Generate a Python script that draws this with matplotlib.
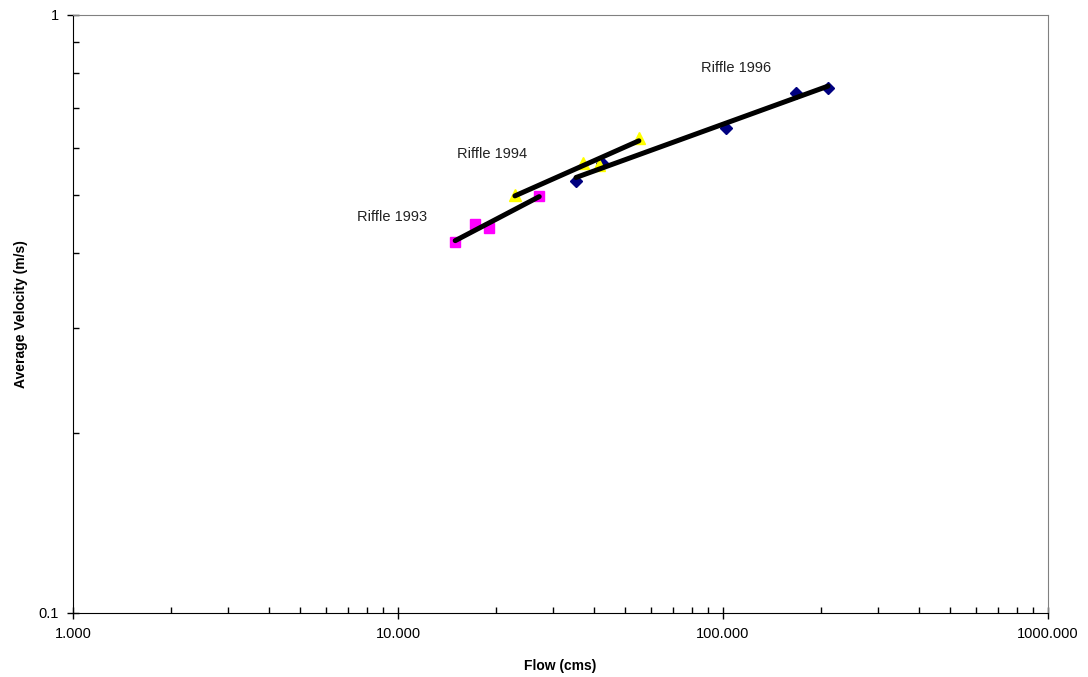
import numpy as np
import matplotlib
matplotlib.use("Agg")
import matplotlib.pyplot as plt
from matplotlib.ticker import FixedLocator, FixedFormatter, LogLocator, NullFormatter

plt.rcParams['font.family'] = ['Liberation Sans', 'DejaVu Sans']

# data (flow in cms, velocity in m/s)
flow_1993 = [15.0, 17.3, 19.0, 27.2]
vel_1993 = [0.417, 0.447, 0.440, 0.498]

flow_1994 = [22.9, 37.1, 41.5, 55.1]
vel_1994 = [0.500, 0.566, 0.561, 0.623]

flow_1996 = [35.3, 42.4, 102.1, 167.7, 210.4]
vel_1996 = [0.528, 0.566, 0.647, 0.741, 0.755]

labels = ["Riffle 1993", "Riffle 1994", "Riffle 1996"]
label_pos = [(9.6, 0.459), (19.5, 0.586), (110.0, 0.815)]


def power_fit(x, y):
    x = np.asarray(x)
    b, a = np.polyfit(np.log10(x), np.log10(y), 1)
    xs = np.array([x.min(), x.max()])
    return xs, 10 ** (a + b * np.log10(xs))


fig = plt.figure(figsize=(10.88, 6.77), dpi=100)
ax = fig.add_axes([73 / 1088, 64 / 677, 975 / 1088, 598 / 677])

ax.plot(flow_1996, vel_1996, linestyle='none', marker='D', markersize=6,
        color='#000080', zorder=3)
ax.plot(flow_1994, vel_1994, linestyle='none', marker='^', markersize=8,
        color='#ffff00', zorder=3)
ax.plot(flow_1993, vel_1993, linestyle='none', marker='s', markersize=7,
        color='#ff00ff', zorder=3)

for fx, fy in [(flow_1993, vel_1993), (flow_1994, vel_1994), (flow_1996, vel_1996)]:
    xs, ys = power_fit(fx, fy)
    ax.plot(xs, ys, color='black', linewidth=3.6, solid_capstyle='round', zorder=4)

for txt, (tx, ty) in zip(labels, label_pos):
    ax.text(tx, ty, txt, ha='center', va='center', fontsize=10.5, color='#222222')

ax.set_xscale('log')
ax.set_yscale('log')
ax.set_xlim(1, 1000)
ax.set_ylim(0.1, 1)

ax.xaxis.set_major_locator(FixedLocator([1, 10, 100, 1000]))
ax.xaxis.set_major_formatter(FixedFormatter(["1.000", "10.000", "100.000", "1000.000"]))
ax.xaxis.set_minor_locator(LogLocator(base=10, subs=np.arange(2, 10)))
ax.xaxis.set_minor_formatter(NullFormatter())
ax.yaxis.set_major_locator(FixedLocator([0.1, 1]))
ax.yaxis.set_major_formatter(FixedFormatter(["0.1", "1"]))
ax.yaxis.set_minor_locator(LogLocator(base=10, subs=np.arange(2, 10)))
ax.yaxis.set_minor_formatter(NullFormatter())

ax.tick_params(which='major', direction='inout', length=8, width=1, labelsize=10.5,
               colors='black', pad=6)
ax.tick_params(which='minor', direction='in', length=4, width=1)

for s in ['top', 'right']:
    ax.spines[s].set_color('#808080')
for s in ['left', 'bottom']:
    ax.spines[s].set_color('black')

ax.set_xlabel("Flow (cms)", fontsize=10, fontweight='bold')
ax.set_ylabel("Average Velocity (m/s)", fontsize=10, fontweight='bold')
ax.xaxis.set_label_coords(0.5, -0.077)
ax.yaxis.set_label_coords(-0.046, 0.5)

fig.savefig("out.png", dpi=100)
